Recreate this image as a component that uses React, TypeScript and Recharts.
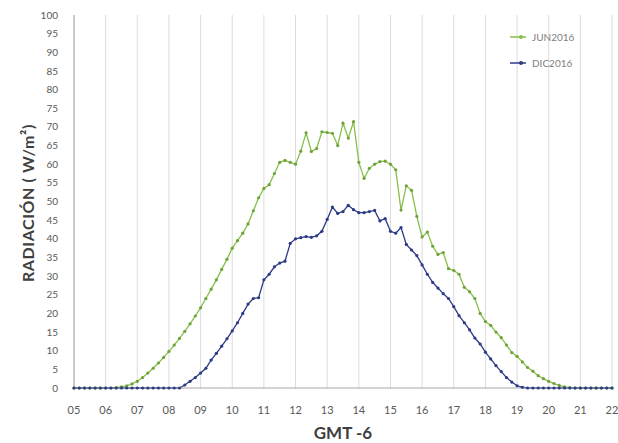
import { CartesianGrid, Line, LineChart, XAxis, YAxis } from "recharts";

// readings every 10 minutes, 05:00 .. 22:00 (GMT -6)
const START_HOUR = 5;
const STEP_MIN = 10;

const jun2016 = [
  0, 0, 0, 0, 0, 0,
  0, 0, 0.1, 0.3, 0.6, 1.1,
  1.8, 2.8, 4, 5.3, 6.7, 8.2,
  9.8, 11.5, 13.3, 15.2, 17.2, 19.3,
  21.5, 24, 26.5, 29, 31.8, 34.5,
  37.5, 39.5, 41.5, 44, 47.5, 51,
  53.5, 54.5, 57.5, 60.5, 61, 60.5,
  60, 63.5, 68.4, 63.4, 64.2, 68.7,
  68.5, 68.3, 65, 71, 67, 71.4,
  60.5, 56.2, 58.9, 60, 60.7, 60.8,
  60, 58.5, 47.7, 54.2, 53, 46,
  40.5, 41.8, 38, 35.8, 36.3, 32,
  31.5, 30.5, 27, 25.8, 24, 20,
  17.8, 16.8, 15, 13.5, 11.5, 9.5,
  8.5, 7, 5.5, 4.5, 3.3, 2.5,
  1.8, 1.2, 0.7, 0.3, 0.1, 0,
  0, 0, 0, 0, 0, 0,
  0,
];

const dic2016 = [
  0, 0, 0, 0, 0, 0,
  0, 0, 0, 0, 0, 0,
  0, 0, 0, 0, 0, 0,
  0, 0, 0, 0.8, 1.8, 2.8,
  4, 5.3, 7.5, 9.3, 11.2, 13.2,
  15.3, 17.5, 20, 22.5, 24, 24.2,
  29, 30.5, 32.5, 33.5, 34, 38.8,
  40, 40.3, 40.6, 40.4, 40.8, 42,
  45.2, 48.5, 46.8, 47.3, 49, 47.8,
  47, 47, 47.3, 47.6, 44.8, 45.4,
  42, 41.5, 43, 38.5, 37, 35.5,
  33, 30.5, 28.3, 26.8, 25.3, 24,
  21.8, 19.4, 17.5, 15.6, 13.4, 11.8,
  9.6, 7.8, 6, 4.4, 2.8, 1.6,
  0.6, 0.2, 0, 0, 0, 0,
  0, 0, 0, 0, 0, 0,
  0, 0, 0, 0, 0, 0,
  0,
];

const hourTicks = [5, 6, 7, 8, 9, 10, 11, 12, 13, 14, 15, 16, 17, 18, 19, 20, 21, 22];
const radTicks = [0, 5, 10, 15, 20, 25, 30, 35, 40, 45, 50, 55, 60, 65, 70, 75, 80, 85, 90, 95, 100];

const GREEN = "#86c04a";
const BLUE = "#2c3b86";
const FONT = "Lato, 'Open Sans', sans-serif";

const data = jun2016.map((v, i) => ({
  t: START_HOUR + (i * STEP_MIN) / 60,
  jun: v,
  dic: dic2016[i],
}));

const legendItems = [
  { name: "JUN2016", color: GREEN },
  { name: "DIC2016", color: BLUE },
];

function LegendBox() {
  return (
    <div style={{ position: "absolute", top: 24, left: 510, fontFamily: FONT }}>
      {legendItems.map((it) => (
        <div key={it.name} style={{ display: "flex", alignItems: "center", height: 26 }}>
          <svg width={18} height={8}>
            <line x1={0} y1={4} x2={16} y2={4} stroke={it.color} strokeWidth={1.5} />
            <circle cx={11} cy={4} r={2} fill={it.color} />
          </svg>
          <span style={{ fontSize: 10, color: "#808080", marginLeft: 4 }}>{it.name}</span>
        </div>
      ))}
    </div>
  );
}

const yTitle = () => (
  <text
    x={27}
    y={203}
    transform="rotate(-90 27 203)"
    textAnchor="middle"
    dominantBaseline="central"
    fontSize={16}
    fontWeight={700}
    fill="#404040"
    fontFamily={FONT}
    letterSpacing={0.6}
  >
    RADIACIÓN ( W/m²)
  </text>
);

const xTitle = () => (
  <text
    x={343}
    y={432}
    textAnchor="middle"
    dominantBaseline="central"
    fontSize={17}
    fontWeight={700}
    fill="#404040"
    fontFamily={FONT}
  >
    GMT -6
  </text>
);

export default function App() {
  return (
    <div style={{ position: "absolute", left: 0, top: 0, width: 618, height: 443 }}>
      <LineChart width={618} height={443} data={data} margin={{ top: 15, right: 6, bottom: 0, left: 30 }}>
        <CartesianGrid horizontal={false} stroke="#dcdcdc" />
        <XAxis
          dataKey="t"
          type="number"
          domain={[5, 22]}
          ticks={hourTicks}
          interval={0}
          height={55}
          tickLine={false}
          tickMargin={12}
          axisLine={{ stroke: "#a6a6a6" }}
          tickFormatter={(h: number) => String(h).padStart(2, "0")}
          tick={{ fontSize: 11, fill: "#595959", fontFamily: FONT }}
          label={xTitle}
        />
        <YAxis
          type="number"
          domain={[0, 100]}
          ticks={radTicks}
          interval={0}
          width={44}
          tickLine={false}
          tickMargin={10}
          axisLine={{ stroke: "#a6a6a6" }}
          tick={{ fontSize: 10, fill: "#595959", fontFamily: FONT }}
          label={yTitle}
        />
        <Line
          type="linear"
          dataKey="jun"
          name="JUN2016"
          stroke={GREEN}
          strokeWidth={1.3}
          dot={{ r: 1.6, fill: "#6fa33a", stroke: "none" }}
          isAnimationActive={false}
        />
        <Line
          type="linear"
          dataKey="dic"
          name="DIC2016"
          stroke={BLUE}
          strokeWidth={1.3}
          dot={{ r: 1.6, fill: BLUE, stroke: "none" }}
          isAnimationActive={false}
        />
      </LineChart>
      <LegendBox />
    </div>
  );
}
